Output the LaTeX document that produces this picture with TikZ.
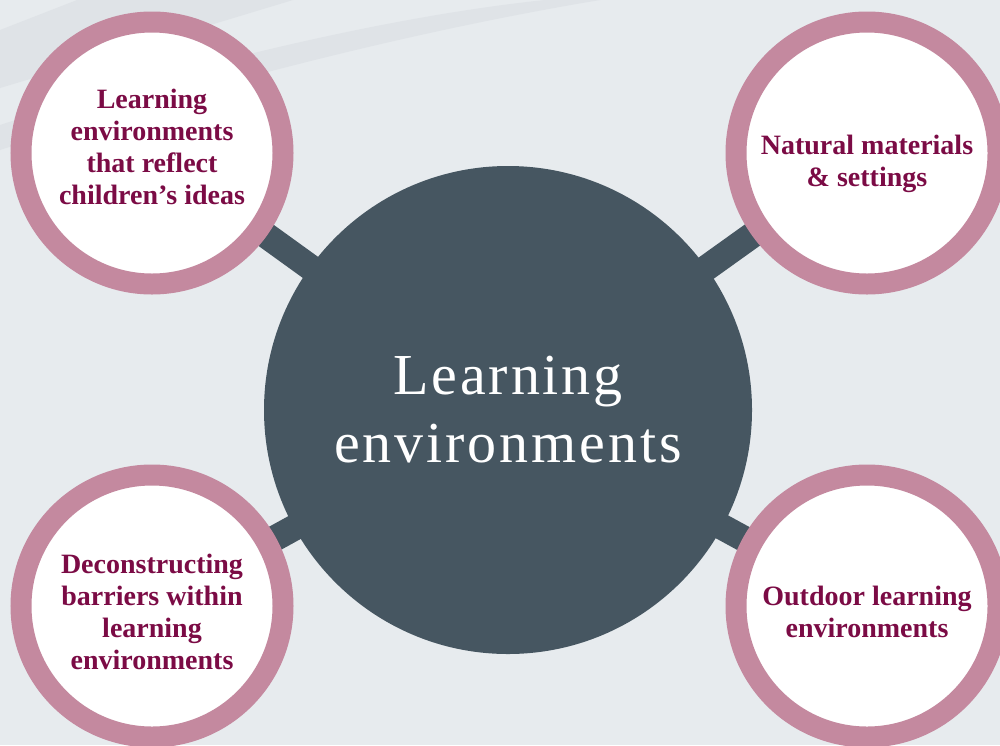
\documentclass[tikz,border=0pt]{standalone}
\usepackage{fontspec}
\setmainfont{Liberation Serif}
\usepackage{xcolor}
\usetikzlibrary{backgrounds}

\definecolor{bgcol}{HTML}{E7EBEE}
\definecolor{bandcol}{HTML}{DFE3E7}
\definecolor{slate}{HTML}{465661}
\definecolor{ringpink}{HTML}{C4899F}
\definecolor{wine}{HTML}{7B0B45}

\pgfdeclarelayer{bars}
\pgfsetlayers{background,bars,main}

\begin{document}
\begin{tikzpicture}[x=1pt,y=-1pt,
    hubcircle/.style={circle,fill=slate,minimum size=488pt,inner sep=0pt,text=white,align=center,
      font=\fontsize{58}{68}\selectfont\addfontfeature{LetterSpace=5}},
    topicring/.style={circle,draw=ringpink,line width=21pt,fill=white,minimum size=262pt,inner sep=0pt},
    topictext/.style={text=wine,align=center,inner sep=0pt,font=\fontsize{28}{32}\selectfont\bfseries},
    spoke/.style={draw=slate,line width=26pt}]
    \useasboundingbox (0,0) rectangle (1000,745);

    \node[hubcircle] (hub) at (508,410) {Learning\\environments};
    \node[topicring,label={[topictext,yshift=6pt]center:Learning\\environments\\that reflect\\children’s ideas}]
      (topic1) at (152,153) {};
    \node[topicring,label={[topictext,yshift=-11pt]center:Natural materials\\\& settings}]
      (topic2) at (867,153) {};
    \node[topicring,label={[topictext,yshift=-6pt]center:Deconstructing\\barriers within\\learning\\environments}]
      (topic3) at (152,606) {};
    \node[topicring,label={[topictext,yshift=-6pt]center:Outdoor learning\\environments}]
      (topic4) at (867,606) {};

    \begin{pgfonlayer}{bars}
      \draw[spoke] (hub.center) -- (topic1.center);
      \draw[spoke] (hub.center) -- (topic2.center);
      \draw[spoke] (hub.center) -- (topic3.center);
      \draw[spoke] (hub.center) -- (topic4.center);
    \end{pgfonlayer}

    % background and the two faint bands
    \begin{pgfonlayer}{background}
      \fill[bgcol] (0,0) rectangle (1000,745);
      \fill[bandcol] (0,30) -- (77,0) -- (293,0) -- (217,23) -- (0,88) -- cycle;
      \fill[bandcol] (0,125) .. controls (200,60) and (400,15) .. (545,0) -- (600,0)
        .. controls (450,25) and (250,70) .. (0,150) -- cycle;
    \end{pgfonlayer}
\end{tikzpicture}
\end{document}
